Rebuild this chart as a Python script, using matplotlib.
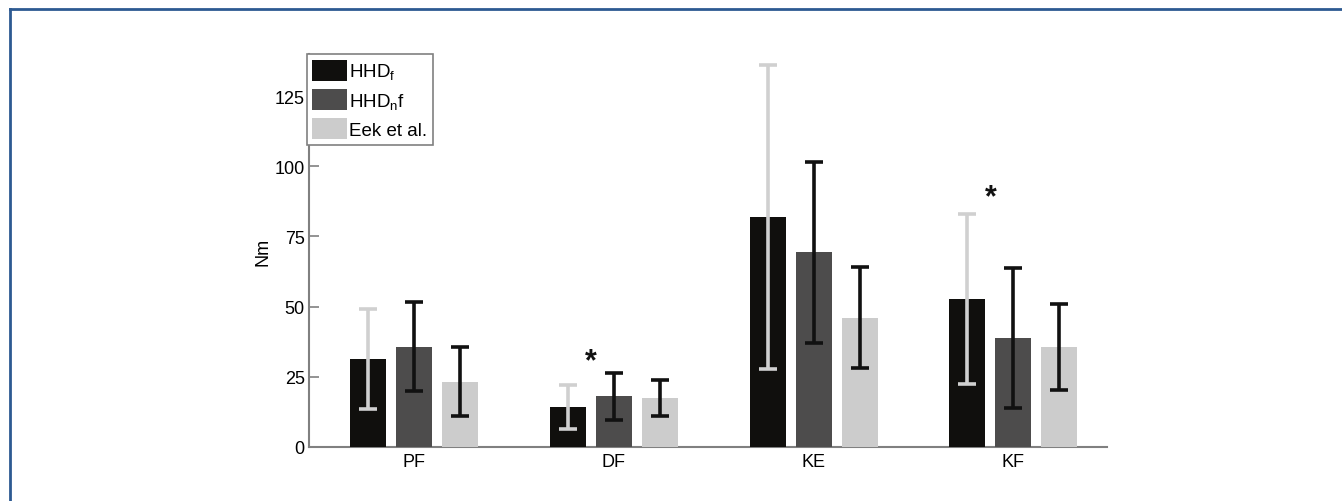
import matplotlib
matplotlib.use('Agg')
import matplotlib.pyplot as plt
import numpy as np

plt.rcParams['font.family'] = 'Liberation Sans'
plt.rcParams['mathtext.fontset'] = 'custom'
plt.rcParams['mathtext.rm'] = 'Liberation Sans'
plt.rcParams['mathtext.it'] = 'Liberation Sans'

# torque means and SDs per joint movement
joints = ['PF', 'DF', 'KE', 'KF']
hhd_f = [31.3, 14.2, 82.0, 52.7]
hhd_f_sd = [17.8, 7.9, 54.2, 30.3]
hhd_nf = [35.7, 18.0, 69.3, 38.7]
hhd_nf_sd = [15.8, 8.3, 32.2, 24.9]
eek = [23.3, 17.5, 46.1, 35.7]
eek_sd = [12.3, 6.4, 18.1, 15.3]
labels = [r'HHD$_\mathregular{f}$', r'HHD$_\mathregular{n}$f', 'Eek et al.']
# significance markers: (joint index, height)
stars = [(1, 30.7), (3, 89.1)]

fig = plt.figure(figsize=(13.42, 5.02), dpi=100)

# outer frame line at top and left
fx, fy = 9.5/1342, 1 - 9.5/502
fig.add_artist(plt.Line2D([fx, 1], [fy, fy], color='#2d5a92', lw=2,
                          transform=fig.transFigure))
fig.add_artist(plt.Line2D([fx, fx], [0, fy], color='#2d5a92', lw=2,
                          transform=fig.transFigure))

ax = fig.add_axes([309/1342, 1 - 448/502, (1107 - 309)/1342, (448 - 55)/502])

x = np.arange(1, len(joints) + 1)
off = 0.23
w = 0.18
cols = ['#100f0d', '#4d4c4c', '#cccccc']
err_cols = ['#d0d0d0', '#111111', '#111111']
series = [(hhd_f, hhd_f_sd), (hhd_nf, hhd_nf_sd), (eek, eek_sd)]

for k, (vals, sds) in enumerate(series):
    xs = x + (k - 1) * off
    ax.bar(xs, vals, width=w, color=cols[k], label=labels[k], zorder=2)
    ax.errorbar(xs, vals, yerr=sds, fmt='none', ecolor=err_cols[k], elinewidth=2.6,
                capsize=6.5, capthick=2.6, zorder=3)

for i, h in stars:
    ax.text(x[i] - off / 2, h, '*', ha='center', va='center', fontsize=22,
            fontweight='bold', color='#111111')

ax.set_xlim(0.473, 4.469)
ax.set_ylim(0, 140)
ax.set_yticks([0, 25, 50, 75, 100, 125])
ax.set_xticks(x)
ax.set_xticklabels(joints)
ax.tick_params(axis='x', length=0, labelsize=13, pad=4)
ax.tick_params(axis='y', direction='in', length=7, width=1.2, color='#808080',
               labelsize=13, pad=3)
ax.set_ylabel('Nm', fontsize=13, labelpad=2)

for s in ['top', 'right']:
    ax.spines[s].set_visible(False)
for s in ['left', 'bottom']:
    ax.spines[s].set_color('#808080')
    ax.spines[s].set_linewidth(1.5)
    ax.spines[s].set_zorder(1)

leg = ax.legend(loc='upper left', bbox_to_anchor=(-0.003, 1.0), borderaxespad=0,
                fontsize=13.5, handlelength=1.85, handleheight=1.35, handletextpad=0.1,
                labelspacing=0.4, borderpad=0.3, fancybox=False, framealpha=1,
                edgecolor='#808080')
leg.get_frame().set_linewidth(1.2)

plt.savefig('out.png', dpi=100)
